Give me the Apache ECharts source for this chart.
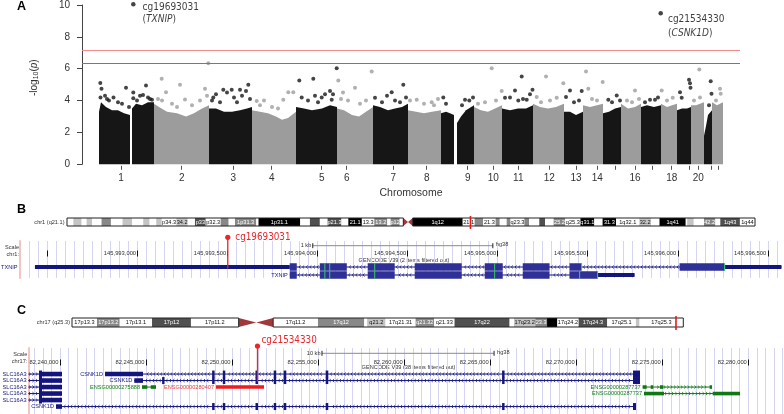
<!DOCTYPE html>
<html><head><meta charset="utf-8">
<script src="https://cdn.jsdelivr.net/npm/echarts@6.0.0/dist/echarts.min.js"></script>
<style>html,body{margin:0;padding:0;background:#fff}#c{width:784px;height:414px}</style>
</head><body><div id="c"></div>
<script>
// ================= Panel A : Manhattan plot =================
const chrNames = ['1','2','3','4','5','6','7','8','9','10','11','12','13','14','15','16','17','18','19','20','21','22'];
const chrBounds = [[17,72],[72,127],[127,170],[170,214],[214,255],[255,291],[291,326],[326,359],[359,392],[392,420],[420,451],[451,482],[482,501],[501,521],[521,539],[539,559],[559,579],[579,595],[595,609],[609,622],[622,630],[630,641]];
const chrTickPos = [39,99.7,151.3,189.7,239.7,264.7,311.3,344.7,385.7,411.3,436.3,467.3,494,515.3,533,553,570.7,589.7,607.3,616.3,629.7,636.3];
const chrTickLabels = ['1','2','3','4','5','6','7','8','9','10','11','12','13','14','','16','','18','','20','',''];
const mhBlocks = [
 [0,[[17,3.3],[19,3.9],[24,3.6],[30,3.4],[36,3.4],[42,3.2],[48,3.1]]],
 [0,[[50,3.5],[54,3.8],[60,3.7],[66,3.9],[72,3.9]]],
 [1,[[72,3.8],[77,3.6],[85,3.3],[95,3.2],[104,3.0],[112,3.2],[120,3.5],[127,3.7]]],
 [2,[[127,3.5],[134,3.5],[142,3.3],[150,3.3],[158,3.4],[165,3.5],[170,3.6]]],
 [3,[[170,3.4],[178,3.3],[186,3.2],[194,3.0],[200,2.8],[206,2.9],[214,3.3]]],
 [4,[[214,3.6],[222,3.5],[230,3.4],[240,3.5],[248,3.7],[255,3.6]]],
 [5,[[255,3.5],[262,3.4],[270,3.1],[277,3.0],[284,3.3],[291,3.6]]],
 [6,[[291,3.7],[298,3.6],[306,3.4],[313,3.5],[320,3.6],[326,3.8]]],
 [7,[[326,3.4],[334,3.3],[342,3.2],[350,3.3],[359,3.4]]],
 [8,[[359,3.2],[364,3.3],[368,3.2],[372,3.1]]],
 [8,[[375,2.6],[379,3.0],[384,3.4],[392,3.7]]],
 [9,[[392,3.6],[399,3.4],[406,3.3],[413,3.5],[420,3.7]]],
 [10,[[420,3.5],[428,3.4],[436,3.5],[444,3.5],[451,3.7]]],
 [11,[[451,3.8],[458,3.6],[466,3.5],[474,3.6],[482,3.8]]],
 [12,[[482,3.3],[488,3.3],[494,3.1],[501,3.3]]],
 [13,[[501,3.7],[508,3.6],[515,3.7],[521,3.8]]],
 [14,[[521,3.2],[527,3.3],[533,3.5],[539,3.6]]],
 [15,[[539,3.8],[546,3.5],[553,3.6],[559,3.8]]],
 [16,[[559,3.6],[565,3.7],[572,3.6],[579,3.7]]],
 [17,[[579,3.8],[585,3.6],[590,3.7],[595,3.8]]],
 [18,[[595,3.4],[600,3.5],[605,3.5],[609,3.6]]],
 [19,[[609,3.7],[614,3.7],[618,3.8],[622,3.9]]],
 [20,[[622,1.8],[624,2.4],[626,3.1],[630,3.4]]],
 [21,[[630,3.9],[635,3.7],[641,3.9]]]
];
const mhDots = [
 [18.3,5.1],[19.5,4.75],[18.5,4.2],[23,4.3],[27,4.0],[31.5,4.2],[44,4.8],[36,3.9],[40,3.8],[51.3,4.5],[51.3,4.15],[58,4.3],[64,4.95],[61,4.35],[66,4.2],[70,4.05],[55,4.0],[68,4.1],[47,3.6],[25,4.1],
 [79.7,5.37],[84,4.53],[98,5.0],[103,4.07],[123,4.74],[126.3,6.34],[76,4.1],[90,3.8],[110,3.7],[118,4.0],[125,4.3],[80,4.0],[95,3.6],
 [131.3,4.2],[134,4.4],[141.3,4.68],[145,4.5],[149.7,4.68],[152,4.2],[158,4.68],[160,4.3],[166.3,5.0],[164,4.6],[168,4.1],[138,3.9],[155,3.9],[130,4.0],
 [174.7,3.97],[182,4.0],[201.3,4.05],[206.3,4.53],[211.3,4.53],[190,3.6],[196,3.5],[178,3.7],
 [217.3,5.26],[231.3,5.37],[219.7,4.2],[233,4.3],[239.7,4.2],[248,4.6],[249.7,4.05],[251,4.4],[254.7,6.03],[226,4.0],[243,4.4],[236,3.9],
 [256.3,5.26],[261,4.5],[273,4.8],[289.7,5.82],[284,4.0],[266,4.0],[278,3.8],[259,4.1],
 [293,4.18],[309.7,4.53],[321.3,5.0],[318,3.9],[313,4.0],[300,3.9],[324,4.2],[305,4.3],
 [328,4.0],[334.7,4.05],[349.7,3.9],[342,3.8],[352,3.7],[356,4.1],
 [361.3,4.2],[364,3.8],[383,4.05],[387.3,4.0],[391,4.2],[380,3.7],
 [409.7,6.03],[419.7,4.6],[403,3.9],[396,3.8],[414,4.0],
 [439.7,5.51],[423,4.18],[433,4.64],[436.3,4.0],[444.7,4.05],[450.5,4.68],[448,4.39],[428,4.2],[441,4.1],
 [464,5.51],[454.7,4.22],[474.7,4.18],[481.3,5.09],[468,4.0],[459,3.9],
 [488,4.64],[484,4.22],[499.7,4.6],[497,4.0],[492,3.9],
 [504,5.82],[506.3,4.74],[520.7,5.16],[510,4.1],[515,4.0],
 [526.3,4.05],[534.7,4.32],[538,4.0],[530,3.9],
 [553,4.64],[545,4.0],[550,3.9],[557,4.1],
 [568,4.05],[573,4.05],[563,3.9],[576,4.2],
 [579.7,4.64],[590.7,4.18],[585,4.0],
 [598,4.53],[599.7,4.18],[607,5.3],[608,5.09],[608.5,4.8],
 [617.3,5.95],[618,4.2],[612,4.0],
 [628.7,5.22],[629.5,4.43],[627,3.7],
 [638,4.74],[638.7,4.43],[634,4.0]
];
const topHits = [[51.3,10.04,'cg19693031','TXNIP'],[578.7,9.48,'cg21534330','CSNK1D']];
const sigLines = [7.13, 6.32];

// ================= Panel B : chr1 / TXNIP =================
const chr1Len = 248.956422;
const chr1Bands = [[0,2.3,'p36.33','gneg'],[2.3,5.3,'p36.32','gpos25'],[5.3,7.1,'p36.31','gneg'],[7.1,9.1,'p36.23','gpos25'],[9.1,12.5,'p36.22','gneg'],[12.5,15.9,'p36.21','gpos50'],[15.9,20.1,'p36.13','gneg'],[20.1,23.6,'p36.12','gpos25'],[23.6,27.6,'p36.11','gneg'],[27.6,29.9,'p35.3','gpos25'],[29.9,32.3,'p35.2','gneg'],[32.3,34.3,'p35.1','gpos25'],[34.3,39.6,'p34.3','gneg'],[39.6,43.7,'p34.2','gpos25'],[43.7,46.3,'p34.1','gneg'],[46.3,50.2,'p33','gpos75'],[50.2,55.6,'p32.3','gneg'],[55.6,58.5,'p32.2','gpos50'],[58.5,60.8,'p32.1','gneg'],[60.8,68.5,'p31.3','gpos50'],[68.5,69.3,'p31.2','gneg'],[69.3,84.4,'p31.1','gpos100'],[84.4,87.9,'p22.3','gneg'],[87.9,91.5,'p22.2','gpos75'],[91.5,94.3,'p22.1','gneg'],[94.3,99.3,'p21.3','gpos75'],[99.3,101.8,'p21.2','gneg'],[101.8,106.7,'p21.1','gpos100'],[106.7,111.2,'p13.3','gneg'],[111.2,115.9,'p13.2','gpos50'],[115.9,117.1,'p13.1','gneg'],[117.1,120.4,'p12','gpos50'],[120.4,121.7,'p11.2','gneg'],[121.7,123.4,'p11.1','acen'],[123.4,125.1,'q11','acen'],[125.1,143.2,'q12','gvar'],[143.2,147.5,'q21.1','gneg'],[147.5,150.6,'q21.2','gpos50'],[150.6,155.1,'q21.3','gneg'],[155.1,156.6,'q22','gpos50'],[156.6,159.1,'q23.1','gneg'],[159.1,160.5,'q23.2','gpos50'],[160.5,165.5,'q23.3','gneg'],[165.5,167.2,'q24.1','gpos50'],[167.2,170.9,'q24.2','gneg'],[170.9,173.0,'q24.3','gpos75'],[173.0,176.1,'q25.1','gneg'],[176.1,180.3,'q25.2','gpos50'],[180.3,185.8,'q25.3','gneg'],[185.8,190.8,'q31.1','gpos100'],[190.8,193.8,'q31.2','gneg'],[193.8,198.7,'q31.3','gpos100'],[198.7,207.1,'q32.1','gneg'],[207.1,211.3,'q32.2','gpos25'],[211.3,214.4,'q32.3','gneg'],[214.4,223.9,'q41','gpos100'],[223.9,224.4,'q42.11','gneg'],[224.4,226.8,'q42.12','gpos25'],[226.8,230.5,'q42.13','gneg'],[230.5,234.6,'q42.2','gpos50'],[234.6,236.4,'q42.3','gneg'],[236.4,243.5,'q43','gpos75'],[243.5,248.956422,'q44','gneg']];
const chr1Arms = [[0,121.7],[125.1,248.956422]];
const bWindow = [145992347, 145996590];
const bPosTicks = [145992500,145993000,145993500,145994000,145994500,145995000,145995500,145996000,145996500];
const bPosLabels = bPosTicks.slice(1);
const bScaleBar = [145993973, 1000, '1 kb'];
const bCpG = ['cg19693031', 145993501, 0];
const bTx = [
 ['TXNIP',0,'-',145992430,145996576,145993845,145996260,
  [[145992430,145993884],[145994012,145994162],[145994278,145994428],[145994539,145994800],[145994928,145995028],[145995139,145995288],[145995399,145995466],[145996010,145996576]],
  'coding',[145994040,145994067,145994317,145994983,145995466,145996260]],
 ['TXNIP',1,'-',145993845,145995760,145993845,145995555,
  [[145993845,145993884],[145994012,145994162],[145994278,145994428],[145994539,145994800],[145994928,145995028],[145995139,145995288],[145995399,145995760]],
  'coding',[145994040,145994067,145994317,145994983,145995455,145995555]]
];

// ================= Panel C : chr17 / CSNK1D =================
const chr17Len = 83.257441;
const chr17Bands = [[0,3.4,'p13.3','gneg'],[3.4,6.5,'p13.2','gpos50'],[6.5,10.9,'p13.1','gneg'],[10.9,16.2,'p12','gpos75'],[16.2,22.7,'p11.2','gneg'],[22.7,25.1,'p11.1','acen'],[25.1,27.4,'q11.1','acen'],[27.4,33.5,'q11.2','gneg'],[33.5,39.8,'q12','gpos50'],[39.8,40.2,'q21.1','gneg'],[40.2,42.7,'q21.2','gpos25'],[42.7,46.8,'q21.31','gneg'],[46.8,49.3,'q21.32','gpos50'],[49.3,52.1,'q21.33','gneg'],[52.1,59.6,'q22','gpos75'],[59.6,60.2,'q23.1','gneg'],[60.2,63.1,'q23.2','gpos25'],[63.1,64.7,'q23.3','gpos50'],[64.7,66.1,'q24.1','gpos100'],[66.1,69.0,'q24.2','gneg'],[69.0,72.9,'q24.3','gpos75'],[72.9,76.8,'q25.1','gneg'],[76.8,77.3,'q25.2','gpos25'],[77.3,83.257441,'q25.3','gneg']];
const chr17Arms = [[0,22.7],[27.4,83.257441]];
const cWindow = [82238158, 82282073];
const cPosTicks = [82240000,82245000,82250000,82255000,82260000,82265000,82270000,82275000,82280000];
const cScaleBar = [82255225, 10000, '10 kb'];
const cCpG = ['cg21534330', 82251477, 1];
const csnkExons = [[82248840,82248985],[82249460,82249605],[82251360,82251505],[82252420,82252565],[82253000,82253150],[82255440,82255590],[82265690,82265835]];
const slcExons = [[82238780,82240116]];
const cTx = [
 ['SLC16A3',0,'+',82228400,82240116,82228400,82238954,slcExons,'coding',[]],
 ['SLC16A3',1,'+',82228400,82240116,82228400,82238954,slcExons,'coding',[]],
 ['SLC16A3',2,'+',82228400,82240116,82228400,82238954,slcExons,'coding',[]],
 ['SLC16A3',3,'+',82228400,82240116,82228400,82238954,slcExons,'coding',[]],
 ['SLC16A3',4,'+',82228400,82240116,82228400,82238954,slcExons,'coding',[]],
 ['CSNK1D',0,'-',82242615,82273705,82248840,82273705,[[82242615,82244823]].concat(csnkExons,[[82273298,82273705]]),'coding',[]],
 ['CSNK1D',1,'-',82244318,82273705,82245950,82273705,[[82244318,82244823],[82245950,82246060]].concat(csnkExons,[[82273298,82273705]]),'coding',[]],
 ['ENSG00000275888',2,'+',82244765,82245579,null,null,[[82244765,82245073],[82245271,82245579]],'lnc',[]],
 ['ENSG00000280407',2,'+',82249065,82251855,null,null,[[82249065,82251855]],'other',[]],
 ['ENSG00000287737',2,'+',82273861,82277871,null,null,[[82273861,82274093],[82274326,82274477],[82274867,82275058],[82277773,82277871]],'lnc',[]],
 ['ENSG00000287737',3,'+',82273937,82279516,null,null,[[82273937,82275101],[82277929,82279516]],'lnc',[]],
 ['CSNK1D',5,'-',82239768,82273472,82248840,82273472,[[82239768,82240116]].concat(csnkExons,[[82273298,82273472]]),'coding',[]]
];

// ================= styling / helpers =================
const FONT = "'Liberation Sans', Arial, sans-serif";
const NARROW = "'DejaVu Sans Condensed', 'Liberation Sans Narrow', 'Liberation Sans', sans-serif";
const BLACK = '#161616', GRAY = '#9c9c9c';
const stainFill = {gneg:'#ffffff', gpos25:'#c4c4c4', gpos50:'#888888', gpos75:'#505050', gpos100:'#000000', gvar:'#000000'};
const darkStain = {gpos50:1, gpos75:1, gpos100:1, gvar:1};
const ACEN = '#a3363a';
const RED = '#e8262b';
const mctx = document.createElement('canvas').getContext('2d');
function textW(s, size, fam) { mctx.font = size + 'px ' + (fam || FONT); return mctx.measureText(s).width; }
function chrOf(x) { for (let i = 0; i < chrBounds.length; i++) if (x >= chrBounds[i][0] && x < chrBounds[i][1]) return i; return chrBounds.length - 1; }
const chrColor = i => (i % 2 === 0 ? BLACK : GRAY);
function gridSteps(win, step) { const a = []; for (let v = Math.ceil(win[0] / step) * step; v <= win[1]; v += step) a.push(v); return a; }
const bGridPos = gridSteps(bWindow, 50);
const cGridPos = gridSteps(cWindow, 500);
const fmtPos = v => v.toLocaleString('en-US');

function ideoRenderer(bands, chrNum) {
  return function (params, api) {
    const b = bands[params.dataIndex];
    const p0 = api.coord([b[0], 1]), p1 = api.coord([b[1], 0]);
    const x = p0[0], w = p1[0] - p0[0], y = p0[1], h = p1[1] - p0[1];
    if (b[3] === 'acen') {
      const pts = b[2][0] === 'p' ? [[x, y], [x, y + h], [x + w, y + h / 2]] : [[x, y + h / 2], [x + w, y], [x + w, y + h]];
      return {type: 'polygon', shape: {points: pts}, style: {fill: ACEN}};
    }
    const ch = [{type: 'rect', shape: {x: x, y: y, width: w, height: h}, style: {fill: stainFill[b[3]]}}];
    const cands = [chrNum + b[2], b[2], b[2].slice(1)];
    for (const c of cands) {
      if (textW(c, 5.6) <= w + 0.3) {
        ch.push({type: 'text', style: {text: c, x: x + w / 2, y: y + h / 2 + 0.3, align: 'center', verticalAlign: 'middle', fontSize: 5.6, fontFamily: FONT, fill: darkStain[b[3]] ? '#fff' : '#111'}});
        break;
      }
    }
    return {type: 'group', children: ch};
  };
}
function armRenderer(arms) {
  return function (params, api) {
    const a = arms[params.dataIndex];
    const p0 = api.coord([a[0], 1]), p1 = api.coord([a[1], 0]);
    return {type: 'rect', shape: {x: p0[0], y: p0[1], width: p1[0] - p0[0], height: p1[1] - p0[1]}, style: {fill: 'none', stroke: '#222', lineWidth: 1}};
  };
}
function markRenderer(win) {
  return function (params, api) {
    const p0 = api.coord([win[0] / 1e6, 1]), p1 = api.coord([win[1] / 1e6, 0]);
    const w = Math.max(1.6, p1[0] - p0[0]);
    return {type: 'rect', shape: {x: (p0[0] + p1[0]) / 2 - w / 2, y: p0[1] - 2, width: w, height: p1[1] - p0[1] + 5}, style: {fill: '#e41a1c'}};
  };
}
function scaleBarRenderer(bar, dy) {
  return function (params, api) {
    const cs = params.coordSys;
    const x1 = api.coord([bar[0], 0])[0], x2 = api.coord([bar[0] + bar[1], 0])[0];
    const y = cs.y + dy;
    return {type: 'group', children: [
      {type: 'line', shape: {x1: x1, y1: y, x2: x2, y2: y}, style: {stroke: '#8a8a8a', lineWidth: 1}},
      {type: 'line', shape: {x1: x1, y1: y - 2.5, x2: x1, y2: y + 2.5}, style: {stroke: '#222', lineWidth: 1}},
      {type: 'line', shape: {x1: x2, y1: y - 2.5, x2: x2, y2: y + 2.5}, style: {stroke: '#222', lineWidth: 1}},
      {type: 'text', style: {text: bar[2], x: x1 - 1.5, y: y, align: 'right', verticalAlign: 'middle', fontSize: 5.6, fontFamily: FONT, fill: '#333'}},
      {type: 'text', style: {text: 'hg38', x: x2 + 3, y: y - 1, align: 'left', verticalAlign: 'middle', fontSize: 5.6, fontFamily: FONT, fill: '#333'}}
    ]};
  };
}
const txColors = {coding: '#15157e', lnc: '#0e7a14', other: '#ee1c1c'};
function txRenderer(list, cfg) {
  return function (params, api) {
    const t = list[params.dataIndex];
    const name = t[0], row = t[1], strand = t[2], s = t[3], e = t[4], ts = t[5], te = t[6], exons = t[7], marks = t[9] || [];
    const color = txColors[t[8]];
    const cs = params.coordSys;
    const X0 = cs.x, X1 = cs.x + cs.width;
    const px = v => api.coord([v, row])[0];
    const clamp = x => Math.max(X0, Math.min(X1, x));
    const yc = api.coord([s, row])[1];
    const sx = clamp(px(s)), ex = clamp(px(e));
    const ch = [{type: 'line', shape: {x1: sx, y1: yc, x2: ex, y2: yc}, style: {stroke: color, lineWidth: 1}}];
    const exPx = exons.map(r => [px(r[0]), px(r[1])]);
    const dir = strand === '-' ? -1 : 1;
    for (let x = sx + cfg.chev / 2; x < ex - 1; x += cfg.chev) {
      if (exPx.some(r => x > r[0] - 1.5 && x < r[1] + 1.5)) continue;
      ch.push({type: 'polyline', shape: {points: [[x - dir * 1, yc - 1.5], [x + dir * 0.6, yc], [x - dir * 1, yc + 1.5]]}, style: {stroke: color, lineWidth: 0.8, fill: 'none'}});
    }
    exons.forEach(r => {
      const a = r[0], b = r[1];
      const segs = [];
      if (ts == null) segs.push([a, b, cfg.nc, color]);
      else {
        const ta = Math.max(a, ts), tb = Math.min(b, te);
        if (ta < tb) {
          if (a < ta) segs.push([a, ta, cfg.utr, color]);
          segs.push([ta, tb, cfg.cds, cfg.cdsFill || color]);
          if (tb < b) segs.push([tb, b, cfg.utr, color]);
        } else segs.push([a, b, cfg.utr, color]);
      }
      segs.forEach(g => {
        let x1 = px(g[0]), x2 = px(g[1]);
        if (x2 < X0 || x1 > X1) return;
        x1 = clamp(x1); x2 = clamp(x2);
        if (x2 - x1 < cfg.minW) { const m = (x1 + x2) / 2; x1 = m - cfg.minW / 2; x2 = m + cfg.minW / 2; }
        ch.push({type: 'rect', shape: {x: x1, y: yc - g[2] / 2, width: x2 - x1, height: g[2]}, style: {fill: g[3]}});
      });
    });
    marks.forEach(m => {
      const x = px(m);
      ch.push({type: 'line', shape: {x1: x, y1: yc - cfg.cds / 2, x2: x, y2: yc + cfg.cds / 2}, style: {stroke: '#2fd25a', lineWidth: 1}});
    });
    const lw = textW(name, cfg.fs);
    let lx = sx - 2;
    if (lx - lw < X0) lx = X0 - cfg.leftGap;
    ch.push({type: 'text', style: {text: name, x: lx, y: yc + 0.3, align: 'right', verticalAlign: 'middle', fontSize: cfg.fs, fontFamily: FONT, fill: t[8] === 'other' ? '#e83a3a' : color}});
    return {type: 'group', children: ch};
  };
}
function lollipopRenderer(cpg, cfg) {
  return function (params, api) {
    const p = api.coord([cpg[1], cpg[2]]);
    const yDot = p[1] + cfg.dy;
    return {type: 'group', children: [
      {type: 'line', shape: {x1: p[0], y1: yDot, x2: p[0], y2: p[1] + cfg.stemEnd}, style: {stroke: RED, lineWidth: 1.3}},
      {type: 'circle', shape: {cx: p[0], cy: yDot, r: 2.6}, style: {fill: RED}},
      {type: 'text', style: {text: cpg[0], x: p[0] + cfg.lx, y: yDot + cfg.ly, align: 'left', verticalAlign: 'middle', fontSize: 9.8, fontFamily: NARROW, fill: RED}}
    ]};
  };
}
function T(text, x, y, opts) {
  return {type: 'text', x: x, y: y, silent: true, style: Object.assign({text: text, fontFamily: FONT, fontSize: 5.6, fill: '#333', align: 'left', verticalAlign: 'middle', textAlign: 'left', textVerticalAlign: 'middle'}, opts || {})};
}
const R = {align: 'right', textAlign: 'right'};
const C = {align: 'center', textAlign: 'center'};
const hidden = {show: false};
const noLine = {show: false, onZero: false};

const blackDots = mhDots.filter(d => chrOf(d[0]) % 2 === 0);
const grayDots = mhDots.filter(d => chrOf(d[0]) % 2 === 1);

const option = {
  animation: false,
  textStyle: {fontFamily: FONT},
  grid: [
    {left: 82, top: 4.3, width: 658, height: 160},
    {left: 67, top: 218, width: 688, height: 8},
    {left: 20, top: 241, width: 764.5, height: 37},
    {left: 20, top: 263, width: 764.5, height: 16},
    {left: 72, top: 318, width: 611.3, height: 9},
    {left: 28.3, top: 348, width: 755.7, height: 66},
    {left: 28.3, top: 370.8, width: 755.7, height: 39}
  ],
  xAxis: [
    {gridIndex: 0, type: 'value', min: 0, max: 658, offset: 1.5, axisLine: noLine,
     axisTick: {customValues: chrTickPos, length: 4, lineStyle: {color: '#555'}},
     axisLabel: {customValues: chrTickPos, fontSize: 10, color: '#333', margin: 7,
       formatter: v => { const i = chrTickPos.findIndex(p => Math.abs(p - v) < 1e-6); return i >= 0 ? chrTickLabels[i] : ''; }},
     splitLine: hidden, name: 'Chromosome', nameLocation: 'middle', nameGap: 22, nameTextStyle: {fontSize: 10.5, color: '#333'}},
    {gridIndex: 1, type: 'value', min: 0, max: chr1Len, show: false},
    {gridIndex: 2, type: 'value', min: bWindow[0], max: bWindow[1], axisLine: noLine,
     axisTick: {show: false, customValues: bGridPos}, axisLabel: hidden, splitLine: {show: true, lineStyle: {color: '#d4d4f3', width: 1}}},
    {gridIndex: 2, type: 'value', position: 'top', offset: -15.5, min: bWindow[0], max: bWindow[1], axisLine: noLine,
     axisTick: {show: true, customValues: bPosTicks, length: 6, lineStyle: {color: '#111', width: 1}},
     axisLabel: {show: true, customValues: bPosLabels, formatter: fmtPos, fontSize: 5.8, color: '#333', margin: 0, align: 'right', padding: [0, 1.5, 0, 0]},
     splitLine: hidden},
    {gridIndex: 3, type: 'value', min: bWindow[0], max: bWindow[1], show: false},
    {gridIndex: 4, type: 'value', min: 0, max: chr17Len, show: false},
    {gridIndex: 5, type: 'value', min: cWindow[0], max: cWindow[1], axisLine: noLine,
     axisTick: {show: false, customValues: cGridPos}, axisLabel: hidden, splitLine: {show: true, lineStyle: {color: '#d4d4f3', width: 1}}},
    {gridIndex: 5, type: 'value', position: 'top', offset: -17.5, min: cWindow[0], max: cWindow[1], axisLine: noLine,
     axisTick: {show: true, customValues: cPosTicks, length: 6, lineStyle: {color: '#111', width: 1}},
     axisLabel: {show: true, customValues: cPosTicks, formatter: fmtPos, fontSize: 5.8, color: '#333', margin: 0, align: 'right', padding: [0, 1.5, 0, 0]},
     splitLine: hidden},
    {gridIndex: 6, type: 'value', min: cWindow[0], max: cWindow[1], show: false}
  ],
  yAxis: [
    {gridIndex: 0, type: 'value', min: 0, max: 10, interval: 2,
     axisLine: {show: true, onZero: false, lineStyle: {color: '#444'}}, axisTick: {show: true, length: 5, lineStyle: {color: '#444'}},
     axisLabel: {fontSize: 10, color: '#333', margin: 12}, splitLine: hidden,
     name: '-log{s|10}({i|p})', nameLocation: 'middle', nameGap: 42, nameRotate: 90,
     nameTextStyle: {fontSize: 10, color: '#333', padding: [0, 0, 0, 14],
       rich: {s: {fontSize: 7, color: '#333', verticalAlign: 'bottom', padding: [4, 0, 0, 0]}, i: {fontSize: 10, color: '#333', fontStyle: 'italic'}}}},
    {gridIndex: 1, type: 'value', min: 0, max: 1, show: false},
    {gridIndex: 2, type: 'value', min: 0, max: 1, axisLine: {show: true, onZero: false, lineStyle: {color: '#f2c4c4', width: 2}}, axisTick: hidden, axisLabel: hidden, splitLine: hidden},
    {gridIndex: 3, type: 'category', data: ['0', '1'], inverse: true, show: false},
    {gridIndex: 4, type: 'value', min: 0, max: 1, show: false},
    {gridIndex: 5, type: 'value', min: 0, max: 1, axisLine: {show: true, onZero: false, lineStyle: {color: '#f2c4c4', width: 2}}, axisTick: hidden, axisLabel: hidden, splitLine: hidden},
    {gridIndex: 6, type: 'category', data: ['0', '1', '2', '3', '4', '5'], inverse: true, show: false}
  ],
  series: [
    {type: 'custom', xAxisIndex: 0, yAxisIndex: 0, silent: true,
     data: mhBlocks.map(b => b[1][0]),
     renderItem: function (params, api) {
       const b = mhBlocks[params.dataIndex], pts = b[1];
       const poly = [api.coord([pts[0][0], 0])];
       pts.forEach(p => poly.push(api.coord(p)));
       poly.push(api.coord([pts[pts.length - 1][0], 0]));
       return {type: 'polygon', shape: {points: poly}, style: {fill: chrColor(b[0])}};
     }},
    {type: 'scatter', xAxisIndex: 0, yAxisIndex: 0, silent: true, symbolSize: 4, itemStyle: {color: BLACK}, data: blackDots,
     markLine: {silent: true, symbol: 'none', label: {show: false}, animation: false,
       data: [{yAxis: sigLines[0], lineStyle: {color: '#f08c8c', width: 1, type: 'solid'}}, {yAxis: sigLines[1], lineStyle: {color: '#6c6cdc', width: 1, type: 'solid'}}]}},
    {type: 'scatter', xAxisIndex: 0, yAxisIndex: 0, silent: true, symbolSize: 4, itemStyle: {color: GRAY}, data: grayDots},
    {type: 'scatter', xAxisIndex: 0, yAxisIndex: 0, silent: true, clip: false, symbolSize: 4.5, itemStyle: {color: BLACK},
     data: topHits.map((h, i) => ({value: [h[0], h[1]], label: {show: true, position: 'right', distance: i ? 5 : 7, offset: [0, i ? 13 : 9],
       formatter: '{n|' + h[2] + '}\n{n|(}{g|' + h[3] + '}{n|)}',
       rich: {n: {fontSize: 10, fontFamily: NARROW, color: '#0a0a0a', lineHeight: i ? 14 : 11.5},
              g: {fontSize: 10, fontFamily: NARROW, color: '#0a0a0a', fontStyle: 'italic', lineHeight: i ? 14 : 11.5}}}}))},
    {type: 'custom', xAxisIndex: 1, yAxisIndex: 1, silent: true, data: chr1Bands.map(b => [b[0], 0]), renderItem: ideoRenderer(chr1Bands, '1')},
    {type: 'custom', xAxisIndex: 1, yAxisIndex: 1, silent: true, data: chr1Arms.map(a => [a[0], 0]), renderItem: armRenderer(chr1Arms)},
    {type: 'custom', xAxisIndex: 1, yAxisIndex: 1, silent: true, data: [[bWindow[0] / 1e6, 0]], renderItem: markRenderer(bWindow)},
    {type: 'custom', xAxisIndex: 2, yAxisIndex: 2, silent: true, data: [[bScaleBar[0], 0]], renderItem: scaleBarRenderer(bScaleBar, 4.7)},
    {type: 'custom', xAxisIndex: 4, yAxisIndex: 3, silent: true, data: bTx.map(t => [t[3], t[1]]),
     renderItem: txRenderer(bTx, {chev: 3.6, cds: 7.5, utr: 4, nc: 4, minW: 1.5, fs: 5.6, leftGap: 2.5, cdsFill: '#2f2f98'})},
    {type: 'custom', xAxisIndex: 4, yAxisIndex: 3, silent: true, data: [[bCpG[1], bCpG[2]]],
     renderItem: lollipopRenderer(bCpG, {dy: -29.7, stemEnd: 1.5, lx: 7.5, ly: 0})},
    {type: 'custom', xAxisIndex: 5, yAxisIndex: 4, silent: true, data: chr17Bands.map(b => [b[0], 0]), renderItem: ideoRenderer(chr17Bands, '17')},
    {type: 'custom', xAxisIndex: 5, yAxisIndex: 4, silent: true, data: chr17Arms.map(a => [a[0], 0]), renderItem: armRenderer(chr17Arms)},
    {type: 'custom', xAxisIndex: 5, yAxisIndex: 4, silent: true, data: [[cWindow[0] / 1e6, 0]], renderItem: markRenderer(cWindow)},
    {type: 'custom', xAxisIndex: 6, yAxisIndex: 5, silent: true, data: [[cScaleBar[0], 0]], renderItem: scaleBarRenderer(cScaleBar, 5.3)},
    {type: 'custom', xAxisIndex: 8, yAxisIndex: 6, silent: true, data: cTx.map(t => [t[3], t[1]]),
     renderItem: txRenderer(cTx, {chev: 3.4, cds: 7, utr: 4.6, nc: 3.6, minW: 2.4, fs: 5.6, leftGap: 1.8})},
    {type: 'custom', xAxisIndex: 8, yAxisIndex: 6, silent: true, data: [[cCpG[1], cCpG[2]]],
     renderItem: lollipopRenderer(cCpG, {dy: -34.5, stemEnd: 1, lx: 4, ly: -5.3})}
  ],
  graphic: [
    T('A', 17, 6.5, {fontSize: 12.5, fontWeight: 'bold', fill: '#000'}),
    T('B', 17, 210, {fontSize: 12.5, fontWeight: 'bold', fill: '#000'}),
    T('C', 17, 311, {fontSize: 12.5, fontWeight: 'bold', fill: '#000'}),
    T('chr1 (q21.1)', 64.5, 222.3, R),
    T('Scale', 19, 247, R),
    T('chr1:', 19, 254, R),
    T('GENCODE V39 (2 items filtered out)', 404, 260, C),
    T('chr17 (q25.3)', 70, 322.8, R),
    T('Scale', 27.3, 354.3, R),
    T('chr17:', 27.3, 361.8, R),
    T('GENCODE V39 (38 items filtered out)', 408.5, 367.8, C)
  ]
};
const chart = echarts.init(document.getElementById('c'), null, {renderer: 'canvas'});
chart.setOption(option);
</script></body></html>
